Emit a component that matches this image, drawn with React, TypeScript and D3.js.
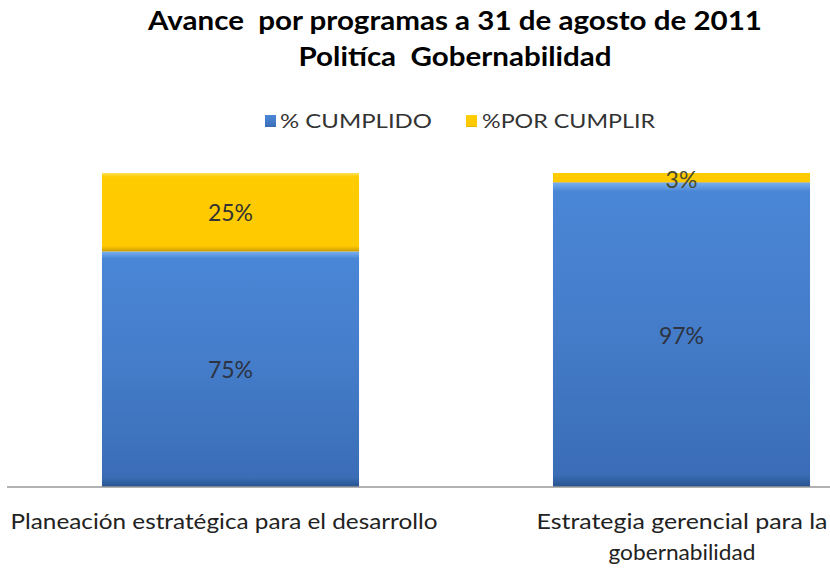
import React, { useEffect, useRef } from "react";
import * as d3 from "d3";

// chart data
const categories = ["Planeación estratégica para el desarrollo", "Estrategia gerencial para la gobernabilidad"];
const cumplido = [75, 97];
const porCumplir = [25, 3];
const seriesNames = ["% CUMPLIDO", "%POR CUMPLIR"];
const titleLines = ["Avance  por programas a 31 de agosto de 2011", "Politíca  Gobernabilidad"];

const W = 830;
const H = 569;
const font = "Lato, 'Open Sans', sans-serif";

const App = () => {
  const ref = useRef<SVGSVGElement>(null);

  useEffect(() => {
    const svg = d3.select(ref.current);
    svg.selectAll("*").remove();

    const defs = svg.append("defs");
    const grad = (id: string, stops: [number, string][]) => {
      const g = defs.append("linearGradient").attr("id", id).attr("x1", 0).attr("x2", 0).attr("y1", 0).attr("y2", 1);
      stops.forEach(([o, c]) => g.append("stop").attr("offset", o).attr("stop-color", c));
    };
    grad("blueG", [[0, "#78b0f0"], [0.03, "#4a86d6"], [0.5, "#447cc9"], [0.96, "#3a6db6"], [1, "#28548f"]]);
    grad("yelG", [[0, "#ffe25a"], [0.05, "#ffcc00"], [0.93, "#ffca00"], [1, "#c89b00"]]);

    const top = 173;
    const bottom = 487;

    const x = d3.scaleBand<number>().domain([0, 1]).range([5, 907]).paddingInner(0.43).paddingOuter(0.215);
    const y = d3.scaleLinear().domain([0, 100]).range([bottom, top]);

    // titles
    svg.selectAll(".title")
      .data(titleLines)
      .enter()
      .append("text")
      .attr("x", 455)
      .attr("y", (d, i) => 30 + i * 36)
      .attr("text-anchor", "middle")
      .attr("font-family", font)
      .attr("font-weight", "bold")
      .attr("font-size", 27)
      .attr("fill", "#000")
      .style("white-space", "pre")
      .attr("textLength", (d, i) => (i === 0 ? 614 : 313))
      .attr("lengthAdjust", "spacingAndGlyphs")
      .text((d) => d);

    // legend
    const legend = [
      { x: 265, fill: "url(#blueG)", tx: 280, tl: 152 },
      { x: 466, fill: "url(#yelG)", tx: 482, tl: 173 },
    ];
    legend.forEach((l, i) => {
      svg.append("rect").attr("x", l.x).attr("y", 115).attr("width", 11).attr("height", 12).attr("fill", l.fill);
      svg.append("text")
        .attr("x", l.tx)
        .attr("y", 128)
        .attr("font-family", font)
        .attr("font-size", 19)
        .attr("fill", "#333")
        .attr("textLength", l.tl)
        .attr("lengthAdjust", "spacingAndGlyphs")
        .text(seriesNames[i]);
    });

    const bars = svg.append("g");
    categories.forEach((c, i) => {
      const x0 = x(i) || 0;
      const bw = x.bandwidth();
      bars.append("rect")
        .attr("x", x0)
        .attr("y", y(cumplido[i]))
        .attr("width", bw)
        .attr("height", y(0) - y(cumplido[i]))
        .attr("fill", "url(#blueG)");
      bars.append("rect")
        .attr("x", x0)
        .attr("y", y(100))
        .attr("width", bw)
        .attr("height", y(cumplido[i]) - y(100))
        .attr("fill", "url(#yelG)");

      bars.append("text")
        .attr("x", x0 + bw / 2)
        .attr("y", (y(0) + y(cumplido[i])) / 2 + 9)
        .attr("text-anchor", "middle")
        .attr("font-family", font)
        .attr("font-size", 23)
        .attr("fill", "#2d3340")
        .text(cumplido[i] + "%");
      bars.append("text")
        .attr("x", x0 + bw / 2)
        .attr("y", porCumplir[i] < 10 ? y(100) + 15 : (y(100) + y(cumplido[i])) / 2 + 9)
        .attr("text-anchor", "middle")
        .attr("font-family", font)
        .attr("font-size", 23)
        .attr("fill", porCumplir[i] < 10 ? "#4a4a30" : "#333")
        .text(porCumplir[i] + "%");
    });

    // axis line
    svg.append("line").attr("x1", 7).attr("x2", W).attr("y1", bottom).attr("y2", bottom).attr("stroke", "#999").attr("stroke-width", 1.5);

    // category labels
    const catLines = [[categories[0]], ["Estrategia gerencial para la", "gobernabilidad"]];
    const catLens = [[427], [291, 147]];
    catLines.forEach((lines, i) => {
      lines.forEach((ln, j) => {
        svg.append("text")
          .attr("x", i === 0 ? 224 : 682)
          .attr("y", 529 + j * 31)
          .attr("text-anchor", "middle")
          .attr("font-family", font)
          .attr("font-size", 22)
          .attr("fill", "#222")
          .attr("textLength", catLens[i][j])
          .attr("lengthAdjust", "spacingAndGlyphs")
          .text(ln);
      });
    });
  }, []);

  return <svg ref={ref} width={W} height={H} style={{ position: "absolute", left: 0, top: 0, background: "#fff" }} />;
};

export default App;
